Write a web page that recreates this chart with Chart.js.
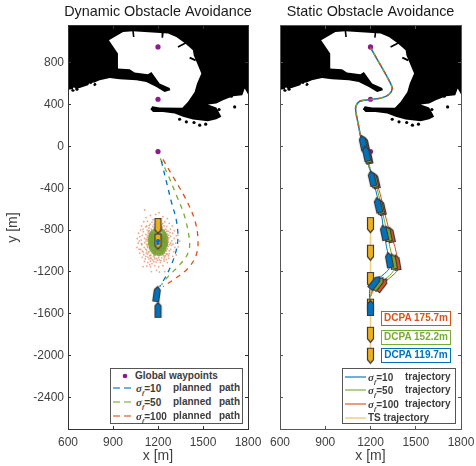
<!DOCTYPE html>
<html>
<head>
<meta charset="utf-8">
<script src="https://cdn.jsdelivr.net/npm/chart.js@4"></script>
<style>
  body { margin: 0; background: #fff; font-family: "Liberation Sans", Arial, sans-serif; }
  #page { position: relative; width: 476px; height: 466px; overflow: hidden; }
  canvas { position: absolute; top: 0; }
  .legend { position: absolute; top: 368px; height: 56px; box-sizing: border-box; border: 1.5px solid #555;
            background: #fff; font-size: 10px; font-weight: bold; color: #3c3c3c; }
  .row { position: absolute; white-space: pre; line-height: 12px; }
  .row svg { position: absolute; top: 0; }
  .row i { font-family: "Liberation Serif", serif; font-size: 11px; }
  .row sub { font-size: 7px; line-height: 0; font-style: italic; }
  .dcpa { position: absolute; left: 381px; width: 70px; height: 15px; box-sizing: border-box; border: 1.5px solid;
          font-size: 10px; font-weight: bold; line-height: 12px; text-align: center; background: #fff; }
</style>
</head>
<body>
<div id="page">
  <canvas id="leftPlot" width="316" height="466" style="left:0"></canvas>
  <canvas id="rightPlot" width="226" height="466" style="left:260px"></canvas>
</div>
<script>
const xTicks = [600, 900, 1200, 1500, 1800];
const yTicks = [800, 400, 0, -400, -800, -1200, -1600, -2000, -2400];

const waypoints = [[1200, 950], [1200, 450], [1200, -50]];

// coast outline
const landOutline = [
  [600, 1160], [1800, 1160], [1800, 498], [1778, 552], [1762, 488], [1700, 479], [1633, 441], [1589, 409],
  [1533, 399], [1589, 371], [1611, 313], [1622, 282], [1589, 259], [1533, 240], [1433, 256], [1367, 282],
  [1311, 313], [1233, 329], [1167, 329], [1149, 355], [1162, 383], [1211, 371], [1362, 368], [1400, 425],
  [1444, 520], [1460, 600], [1489, 695], [1462, 790], [1438, 870], [1433, 918], [1378, 988], [1322, 1045],
  [1267, 1077], [1033, 1099], [967, 1093], [873, 1013], [933, 886], [933, 743], [1011, 736], [1044, 705],
  [1133, 689], [1156, 711], [1211, 600], [1278, 558], [1282, 536], [1244, 520], [1189, 568], [1122, 616],
  [1056, 631], [944, 641], [878, 654], [811, 631], [733, 584], [678, 558], [600, 542]
];
const landSpecks = [[633, 536], [660, 546], [778, 593], [1344, 259], [1389, 234], [1440, 228], [1478, 202],
  [1518, 212], [1607, 352], [1711, 377], [1689, 479]];
const whiteSpecks = [[744, 590], [767, 600], [640, 552]];
const notchA = [[1033, 1110], [1038, 1045]];
const notchB = [[1233, 1090], [1229, 1038]];
const notchC = [[1333, 949], [1384, 988]];
const notchD = [[1411, 848], [1451, 822]];

// left panel: planned paths
const plannedBlue = [[1222, -138], [1256, -338], [1289, -529], [1322, -704], [1333, -863], [1322, -990], [1289, -1133], [1245, -1260], [1211, -1340]];
const plannedGreen = [[1215, -115], [1267, -274], [1322, -465], [1378, -672], [1411, -926], [1394, -1037], [1333, -1149], [1267, -1244], [1222, -1324]];
const plannedOrange = [[1233, -125], [1300, -290], [1389, -513], [1445, -704], [1467, -894], [1451, -1053], [1389, -1181], [1300, -1276], [1233, -1340]];

// left panel: obstacle position samples
const cloudOrange = [
  [1111, -608], [1207, -634], [1100, -1149], [1156, -1196], [1245, -1196], [1074, -983], [1078, -863], [1345, -905], [1333, -847], [1322, -1037],
  [1120, -680], [1150, -660], [1185, -650], [1232, -672], [1262, -690], [1105, -720], [1130, -715], [1168, -700], [1198, -705], [1245, -720],
  [1275, -735], [1295, -760], [1090, -760], [1118, -770], [1142, -755], [1172, -745], [1222, -750], [1258, -765], [1283, -790], [1310, -805],
  [1085, -800], [1102, -815], [1128, -800], [1155, -790], [1240, -795], [1268, -812], [1298, -830], [1322, -855], [1070, -830], [1095, -850],
  [1118, -840], [1135, -830], [1262, -838], [1285, -860], [1308, -880], [1062, -880], [1088, -895], [1110, -880], [1130, -870], [1272, -875],
  [1292, -902], [1318, -925], [1068, -925], [1092, -940], [1112, -920], [1132, -905], [1270, -915], [1290, -945], [1312, -965], [1335, -960],
  [1060, -965], [1085, -985], [1108, -965], [1128, -950], [1268, -955], [1285, -985], [1305, -1005], [1078, -1020], [1102, -1010], [1125, -995],
  [1145, -1045], [1170, -1050], [1255, -1000], [1275, -1025], [1298, -1050], [1095, -1060], [1118, -1050], [1140, -1075], [1165, -1085], [1192, -1070],
  [1225, -1065], [1250, -1045], [1272, -1070], [1110, -1100], [1132, -1110], [1160, -1120], [1188, -1105], [1215, -1110], [1240, -1095], [1262, -1110],
  [1125, -1145], [1150, -1150], [1178, -1140], [1205, -1150], [1232, -1140], [1190, -1185], [1210, -1200], [1125, -760], [1160, -725], [1212, -690],
  [1240, -760], [1100, -790], [1280, -825], [1140, -780], [1075, -905], [1120, -905], [1300, -935], [1285, -925], [1105, -1035], [1130, -1030],
  [1270, -1045], [1240, -1075], [1150, -1095], [1180, -1075], [1210, -1085], [1090, -930], [1095, -1000], [1250, -850], [1255, -900], [1138, -935],
  [1140, -1005], [1262, -980], [1175, -775], [1225, -785], [1205, -770], [1150, -1065], [1235, -1025], [1255, -1080], [1115, -1075], [1145, -1130],
  [1137, -812], [1148, -742], [1186, -762], [1214, -728], [1232, -738], [1252, -792], [1272, -848], [1268, -892], [1278, -938], [1275, -998],
  [1262, -1030], [1244, -1058], [1220, -1092], [1196, -1088], [1172, -1102], [1155, -1072], [1132, -1058], [1122, -1018], [1118, -982], [1126, -935],
  [1122, -888], [1127, -852], [1142, -805], [1165, -765], [1192, -738], [1208, -752], [1228, -770], [1248, -822], [1258, -870], [1264, -935],
  [1255, -1025], [1238, -1045], [1205, -1065], [1178, -1060], [1152, -1040], [1136, -1015], [1132, -965], [1134, -888], [1148, -835], [1258, -810]
];
const cloudGreen = [
  [1200, -790], [1180, -800], [1220, -800], [1165, -815], [1195, -815], [1235, -815], [1155, -830], [1180, -835], [1210, -830], [1245, -835],
  [1150, -850], [1172, -855], [1200, -850], [1225, -852], [1250, -855], [1147, -870], [1165, -875], [1190, -872], [1215, -870], [1238, -875],
  [1255, -872], [1145, -890], [1162, -895], [1182, -888], [1208, -892], [1230, -890], [1252, -895], [1148, -910], [1168, -912], [1190, -908],
  [1212, -912], [1235, -908], [1255, -912], [1146, -930], [1165, -932], [1185, -928], [1210, -930], [1232, -928], [1254, -932], [1150, -950],
  [1170, -952], [1192, -948], [1215, -950], [1238, -952], [1252, -950], [1152, -970], [1175, -972], [1198, -968], [1222, -972], [1245, -968],
  [1158, -990], [1180, -992], [1205, -988], [1228, -992], [1243, -988], [1168, -1010], [1190, -1012], [1215, -1008], [1235, -1010], [1180, -1028],
  [1205, -1032], [1222, -1025], [1195, -775], [1212, -780], [1160, -860], [1240, -900], [1175, -940], [1225, -960], [1155, -920], [1245, -920],
  [1185, -860], [1215, -850], [1195, -900], [1205, -940], [1185, -985], [1218, -985], [1168, -890], [1232, -870]
];
const cloudBlue = [[1196, -895], [1204, -895], [1192, -905], [1200, -905], [1208, -905], [1194, -915], [1203, -915], [1198, -925], [1205, -930], [1195, -935]];

// ships: x, y, heading in degrees
const tsLeft = [[1200, -761, 0], [1200, -910, 0]];
const ownLeft = [[1200, -1562, 0], [1192, -1410, 8]];
const tsRight = [[1200, -752, 0], [1200, -1016, 0], [1200, -1277, 0], [1200, -1531, 0], [1200, -1800, 0], [1200, -2000, 0]];
const ownBlue = [[1151, 33, -12], [1173, -69, -12], [1211, -307, -13], [1251, -562, -13], [1291, -825, -12], [1324, -1086, -10], [1229, -1302, 38], [1200, -1544, 0]];
const ownGreen = [[1160, 22, -12], [1180, -85, -12], [1224, -320, -13], [1263, -575, -13], [1315, -835, -12], [1350, -1100, -10], [1252, -1312, 38]];
const ownOrange = [[1166, 14, -12], [1186, -95, -12], [1234, -330, -13], [1274, -585, -13], [1335, -845, -12], [1374, -1110, -10], [1275, -1324, 38]];

// right panel: trajectories
const sharedPath = [[1200, 943], [1273, 759], [1328, 616], [1344, 552], [1324, 498], [1273, 463], [1200, 447], [1129, 431], [1103, 383], [1103, 329], [1118, 218], [1133, 107], [1162, -52], [1195, -211]];
const trajBlue = [[1195, -211], [1229, -387], [1273, -657], [1284, -768], [1306, -959], [1328, -1150], [1295, -1213], [1229, -1293], [1196, -1356], [1200, -1563]];
const trajGreen = [[1195, -211], [1240, -387], [1284, -657], [1306, -800], [1328, -959], [1357, -1150], [1340, -1213], [1273, -1293], [1218, -1347], [1200, -1436]];
const trajOrange = [[1195, -211], [1250, -387], [1295, -641], [1324, -800], [1362, -959], [1384, -1165], [1362, -1213], [1295, -1293], [1229, -1356], [1200, -1436]];
const trajTs = [[1200, -700], [1200, -2040]];

const dcpaLabels = ["DCPA 175.7m", "DCPA 152.2m", "DCPA 119.7m"];
const sigmaValues = ["10", "50", "100"];

const BLUE = "#0072BD", GREEN = "#77AC30", ORANGE = "#D95319", YELLOW = "#EDB120", PURPLE = "#8A1A8E";
const FRAME = "#333333", TEXT = "#404040";
const FONT = "Liberation Sans";

function pts(list) {
  return list.map((p) => ({ x: p[0], y: p[1] }));
}

function makeShip(color, pointDown) {
  const c = document.createElement("canvas");
  c.width = 9;
  c.height = 18;
  const g = c.getContext("2d");
  g.beginPath();
  if (pointDown) {
    g.moveTo(1.5, 1.5);
    g.lineTo(7.5, 1.5);
    g.lineTo(7.5, 13);
    g.lineTo(4.5, 16.5);
    g.lineTo(1.5, 13);
  } else {
    g.moveTo(1.5, 16.5);
    g.lineTo(7.5, 16.5);
    g.lineTo(7.5, 5);
    g.lineTo(4.5, 1.5);
    g.lineTo(1.5, 5);
  }
  g.closePath();
  g.fillStyle = color;
  g.fill();
  g.lineWidth = 1.2;
  g.strokeStyle = "#3a3a3a";
  g.stroke();
  return c;
}

function lineDs(list, color, width, order, dash, dashOffset) {
  return {
    data: pts(list), showLine: true, borderColor: color, borderWidth: width, pointRadius: 0,
    borderDash: dash || [], borderDashOffset: dashOffset || 0, tension: 0.35, order: order
  };
}

function dotDs(list, color, radius, order) {
  return { data: pts(list), showLine: false, backgroundColor: color, borderWidth: 0, pointRadius: radius, order: order };
}

function shipDs(list, image, order) {
  return { data: pts(list), showLine: false, pointStyle: image, pointRadius: 3, pointRotation: list.map((s) => s[2]), order: order };
}

function landDatasets() {
  return [
    { data: pts(landOutline), showLine: true, borderColor: "#000", borderWidth: 0, backgroundColor: "#000", fill: "shape", pointRadius: 0, order: 100 },
    dotDs(landSpecks, "#000", 1.6, 99),
    dotDs(whiteSpecks, "#fff", 1.1, 98),
    { ...lineDs(notchA, "#000", 1.6, 97), tension: 0 },
    { ...lineDs(notchB, "#000", 1.6, 97), tension: 0 },
    { ...lineDs(notchC, "#000", 1.6, 97), tension: 0 },
    { ...lineDs(notchD, "#000", 2, 97), tension: 0 }
  ];
}

function edgeAxis(axis, position, ticks, frame, size) {
  return {
    axis: axis, position: position, display: true,
    min: axis === "x" ? 600 : -2700, max: axis === "x" ? 1800 : 1150,
    afterBuildTicks: (s) => { s.ticks = ticks.map((v) => ({ value: v })); },
    afterFit: (s) => { if (axis === "x") s.height = size; else s.width = size; },
    grid: { drawOnChartArea: false, tickLength: -3, tickColor: frame, z: 1 },
    border: { color: frame, z: 1 },
    ticks: { display: false, autoSkip: false }
  };
}

function makeChart(id, title, datasets, opts) {
  return new Chart(document.getElementById(id), {
    type: "scatter",
    data: { datasets: datasets },
    options: {
      responsive: false, animation: false, events: [],
      layout: { padding: 0 },
      plugins: {
        legend: { display: false }, tooltip: { enabled: false },
        title: {
          display: true, text: title, fullSize: opts.wideTitle, color: "#1a1a1a",
          font: { family: FONT, size: 14.4, weight: "normal" }, padding: { top: 3, bottom: 5.7 }
        }
      },
      scales: {
        x: {
          ...edgeAxis("x", "bottom", xTicks, opts.frame, 37),
          ticks: { autoSkip: false, maxRotation: 0, padding: 9, color: TEXT, font: { family: FONT, size: 12 }, callback: (v) => String(v) },
          title: { display: true, text: "x [m]", color: TEXT, font: { family: FONT, size: 14 }, padding: { top: 0, bottom: 1 } }
        },
        y: {
          ...edgeAxis("y", "left", yTicks, opts.frame, opts.left),
          ticks: opts.yLabels
            ? { autoSkip: false, padding: 7, color: TEXT, font: { family: FONT, size: 12 }, callback: (v) => String(v) }
            : { display: false, autoSkip: false },
          title: { display: opts.yLabels, text: "y [m]", color: TEXT, font: { family: FONT, size: 14 }, padding: { top: 5, bottom: 0 } }
        },
        xTop: edgeAxis("x", "top", xTicks, opts.frame, 0),
        yRight: edgeAxis("y", "right", yTicks, opts.frame, opts.right)
      }
    }
  });
}

const blueUp = makeShip(BLUE, false), greenUp = makeShip(GREEN, false), orangeUp = makeShip(ORANGE, false);
const yellowDown = makeShip(YELLOW, true);

makeChart("leftPlot", "Dynamic Obstacle Avoidance", [
  ...landDatasets(),
  dotDs(cloudOrange, "rgba(217,83,25,0.5)", 0.9, 60),
  dotDs(cloudGreen, "rgba(122,160,50,0.85)", 2.1, 50),
  lineDs(plannedOrange, ORANGE, 1.3, 40, [5, 5]),
  lineDs(plannedGreen, GREEN, 1.3, 39, [5, 5]),
  lineDs(plannedBlue, BLUE, 1.3, 38, [5, 5]),
  shipDs(tsLeft, yellowDown, 30),
  dotDs(cloudBlue, BLUE, 1, 25),
  shipDs(ownLeft, blueUp, 20),
  dotDs(waypoints, PURPLE, 2.6, 5)
], { frame: FRAME, left: 68, right: 68, yLabels: true, wideTitle: true });

makeChart("rightPlot", "Static Obstacle Avoidance", [
  ...landDatasets(),
  dotDs(waypoints, PURPLE, 2.6, 60),
  lineDs(trajTs, "#F5CF7F", 1.5, 50),
  shipDs(tsRight, yellowDown, 45),
  lineDs(sharedPath, BLUE, 1.5, 44),
  lineDs(sharedPath, GREEN, 1.5, 43, [3, 6], 3),
  lineDs(sharedPath, ORANGE, 1.5, 42, [3, 6]),
  lineDs(trajOrange, ORANGE, 1, 41),
  lineDs(trajGreen, GREEN, 1, 40),
  lineDs(trajBlue, BLUE, 1, 39),
  shipDs(ownOrange, orangeUp, 30),
  shipDs(ownGreen, greenUp, 29),
  shipDs(ownBlue, blueUp, 28)
], { frame: "#555", left: 20, right: 25, yLabels: false, wideTitle: false });

// legends and DCPA tags are plain text over the plots
const page = document.getElementById("page");

function swatch(color, dashed, left, width) {
  const dash = dashed ? 'stroke-dasharray="7 4"' : "";
  return `<svg width="${width}" height="12" style="left:${left}px"><line x1="0" y1="6" x2="${width}" y2="6" stroke="${color}" stroke-opacity="0.75" stroke-width="1.5" ${dash}/></svg>`;
}

function sigmaRow(top, color, value, word, dashed, textLeft) {
  return `<div class="row" style="top:${top}px;left:2px;width:120px">${swatch(color, dashed, 0, 21)}` +
    `<span style="position:absolute;left:${textLeft}px"><i>σ<sub>f</sub></i>=${value}</span>` +
    `<span style="position:absolute;left:${textLeft + 37}px;word-spacing:1px">${word}</span></div>`;
}

const rowColors = [BLUE, GREEN, ORANGE];

let leftHtml = `<div class="row" style="top:1px;left:0;width:100%"><svg width="20" height="12" style="left:7px"><circle cx="7" cy="6" r="2.3" fill="${PURPLE}"/></svg><span style="position:absolute;left:24px">Global waypoints</span></div>`;
sigmaValues.forEach((v, i) => {
  leftHtml += sigmaRow(13 + i * 14, rowColors[i], v, "planned  path", true, 23);
});
page.insertAdjacentHTML("beforeend", `<div class="legend" style="left:110px;width:133px">${leftHtml}</div>`);

let rightHtml = "";
sigmaValues.forEach((v, i) => {
  rightHtml += sigmaRow(1.5 + i * 13.7, rowColors[i], v, "trajectory", false, 23);
});
rightHtml += `<div class="row" style="top:42.5px;left:2px;width:100px">${swatch("#F1BE55", false, 0, 21)}<span style="position:absolute;left:23px">TS trajectory</span></div>`;
page.insertAdjacentHTML("beforeend", `<div class="legend" style="left:342px;width:114px">${rightHtml}</div>`);

dcpaLabels.forEach((label, i) => {
  page.insertAdjacentHTML("beforeend", `<div class="dcpa" style="top:${311 + i * 18.7}px;color:${rowColors[2 - i]};border-color:${rowColors[2 - i]}">${label}</div>`);
});
</script>
</body>
</html>
